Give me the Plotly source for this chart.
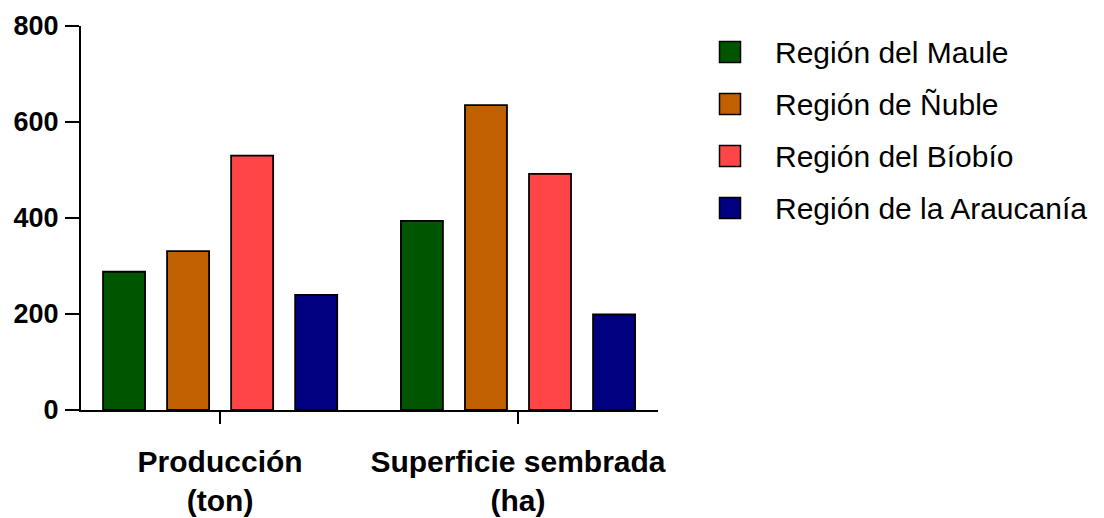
import plotly.graph_objects as go

# ---- data ----
categories = ["<b>Producción</b><br><b>(ton)</b>", "<b>Superficie sembrada</b><br><b>(ha)</b>"]
regions = ["Región del Maule", "Región de Ñuble", "Región del Bíobío", "Región de la Araucanía"]
maule = [288, 394]
nuble = [331, 635]
biobio = [530, 492]
araucania = [240, 199]
colors = ["#005500", "#C06000", "#FF4545", "#000080"]
y_ticks = [0, 200, 400, 600, 800]

series = [maule, nuble, biobio, araucania]

W, H = 1104, 518
ML, MR, MT, MB = 81, 446, 26, 108
PW, PH = W - ML - MR, H - MT - MB

FONT = "Liberation Sans, Arial, sans-serif"

fig = go.Figure()
for name, vals, col in zip(regions, series, colors):
    fig.add_trace(go.Bar(
        x=categories, y=vals, name=name,
        marker=dict(color=col, line=dict(color="black", width=1.8)),
        showlegend=False,
    ))

# custom legend (large square swatches like the reference)
def px_to_paper_x(px):
    return (px - ML) / PW

def px_to_paper_y(py):
    return (H - MB - py) / PH

shapes = []
annotations = []
row0, row_step = 52, 52
for i, (name, col) in enumerate(zip(regions, colors)):
    cy = row0 + i * row_step
    shapes.append(dict(
        type="rect", xref="paper", yref="paper",
        xsizemode="pixel", ysizemode="pixel",
        xanchor=px_to_paper_x(730), yanchor=px_to_paper_y(cy),
        x0=-10.5, x1=10.5, y0=-10.5, y1=10.5,
        fillcolor=col, line=dict(color="black", width=1.5),
    ))
    annotations.append(dict(
        xref="paper", yref="paper",
        x=px_to_paper_x(773), y=px_to_paper_y(cy),
        xanchor="left", yanchor="middle",
        text=name, showarrow=False,
        font=dict(family=FONT, size=30, color="black"),
    ))

fig.update_layout(
    width=W, height=H,
    margin=dict(l=ML, r=MR, t=MT, b=MB, autoexpand=False),
    paper_bgcolor="white", plot_bgcolor="white",
    barmode="group", bargap=0.14, bargroupgap=0.344,
    shapes=shapes, annotations=annotations,
    showlegend=False,
)
fig.update_xaxes(
    type="category", range=[-0.467, 1.47],
    showline=True, linecolor="black", linewidth=2,
    ticks="outside", ticklen=12, tickwidth=2, tickcolor="black",
    tickfont=dict(family=FONT, size=30, color="black"),
    ticklabelstandoff=12,
    showgrid=False, zeroline=False,
)
fig.update_yaxes(
    range=[0, 800], tickvals=y_ticks,
    showline=True, linecolor="black", linewidth=2,
    ticks="outside", ticklen=14, tickwidth=2, tickcolor="black",
    tickfont=dict(family=FONT, size=27, color="black", weight="bold"),
    ticklabelstandoff=1,
    showgrid=False, zeroline=False,
)

fig.write_html(
    "out.html",
    config={"displayModeBar": False},
    post_script="document.body.style.margin='0';document.body.style.overflow='hidden';",
)
